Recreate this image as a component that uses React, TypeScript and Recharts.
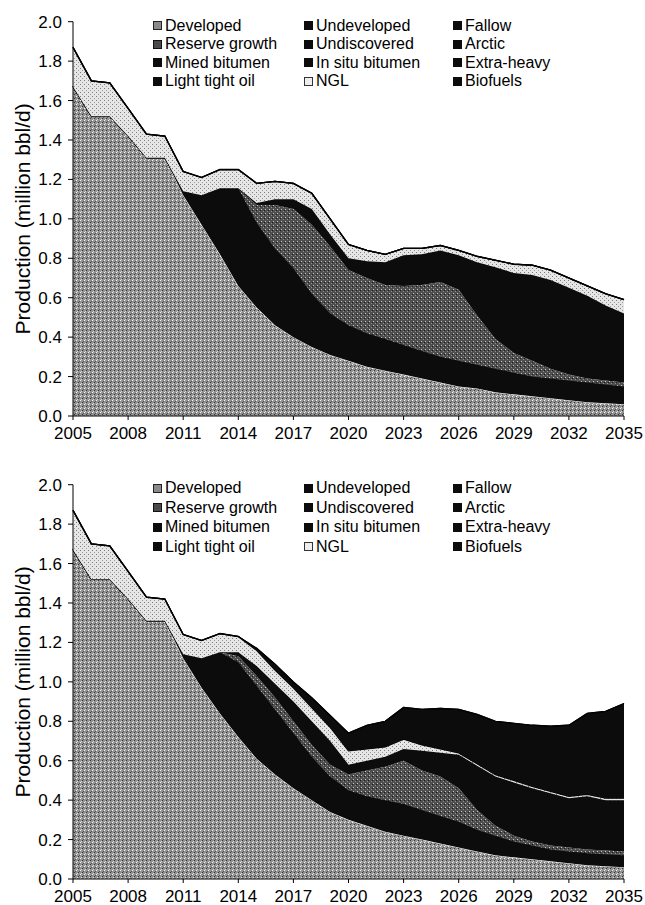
import { AreaChart, Area, XAxis, YAxis } from 'recharts';

const YEARS = [2005, 2006, 2007, 2008, 2009, 2010, 2011, 2012, 2013, 2014, 2015, 2016, 2017, 2018, 2019, 2020, 2021, 2022, 2023, 2024, 2025, 2026, 2027, 2028, 2029, 2030, 2031, 2032, 2033, 2034, 2035];
const X_TICKS = [2005, 2008, 2011, 2014, 2017, 2020, 2023, 2026, 2029, 2032, 2035];
const Y_TICKS = [0, 0.2, 0.4, 0.6, 0.8, 1.0, 1.2, 1.4, 1.6, 1.8, 2.0];

const ZERO = [0, 0, 0, 0, 0, 0, 0, 0, 0, 0, 0, 0, 0, 0, 0, 0, 0, 0, 0, 0, 0, 0, 0, 0, 0, 0, 0, 0, 0, 0, 0];

// upper chart (million bbl/d)
const TOP_DEVELOPED = [1.67, 1.52, 1.52, 1.42, 1.31, 1.31, 1.12, 0.97, 0.82, 0.66, 0.55, 0.46, 0.40, 0.35, 0.31, 0.28, 0.25, 0.23, 0.21, 0.19, 0.17, 0.15, 0.14, 0.12, 0.11, 0.10, 0.09, 0.08, 0.07, 0.065, 0.06];
const TOP_UNDEVELOPED = [0, 0, 0, 0, 0, 0, 0.02, 0.15, 0.335, 0.495, 0.43, 0.39, 0.35, 0.27, 0.21, 0.18, 0.17, 0.16, 0.15, 0.14, 0.13, 0.13, 0.12, 0.12, 0.11, 0.10, 0.10, 0.10, 0.10, 0.095, 0.09];
const TOP_RESERVE_GROWTH = [0, 0, 0, 0, 0, 0, 0, 0, 0, 0, 0.09, 0.22, 0.30, 0.35, 0.34, 0.28, 0.28, 0.275, 0.30, 0.335, 0.38, 0.36, 0.25, 0.15, 0.10, 0.08, 0.05, 0.03, 0.02, 0.02, 0.02];
const TOP_UNDISCOVERED = [0, 0, 0, 0, 0, 0, 0, 0, 0, 0, 0.01, 0.03, 0.05, 0.08, 0.06, 0.06, 0.085, 0.115, 0.155, 0.155, 0.16, 0.175, 0.27, 0.365, 0.405, 0.435, 0.45, 0.44, 0.42, 0.38, 0.35];
const TOP_NGL = [0.20, 0.18, 0.17, 0.14, 0.12, 0.11, 0.10, 0.09, 0.095, 0.095, 0.10, 0.09, 0.08, 0.08, 0.08, 0.07, 0.055, 0.04, 0.035, 0.03, 0.025, 0.025, 0.03, 0.035, 0.045, 0.05, 0.05, 0.05, 0.05, 0.06, 0.07];

// lower chart (million bbl/d)
const BOT_DEVELOPED = [1.67, 1.52, 1.52, 1.42, 1.31, 1.31, 1.12, 0.97, 0.84, 0.72, 0.61, 0.53, 0.46, 0.40, 0.34, 0.30, 0.27, 0.24, 0.22, 0.20, 0.18, 0.16, 0.14, 0.12, 0.11, 0.10, 0.09, 0.08, 0.07, 0.065, 0.06];
const BOT_UNDEVELOPED = [0, 0, 0, 0, 0, 0, 0.02, 0.15, 0.31, 0.38, 0.37, 0.33, 0.28, 0.22, 0.18, 0.15, 0.15, 0.16, 0.16, 0.15, 0.14, 0.13, 0.11, 0.10, 0.08, 0.07, 0.06, 0.06, 0.06, 0.06, 0.06];
const BOT_RESERVE_GROWTH = [0, 0, 0, 0, 0, 0, 0, 0, 0, 0.03, 0.05, 0.06, 0.06, 0.06, 0.06, 0.08, 0.13, 0.17, 0.22, 0.20, 0.20, 0.17, 0.10, 0.05, 0.03, 0.02, 0.02, 0.02, 0.02, 0.02, 0.02];
const BOT_UNDISCOVERED = [0, 0, 0, 0, 0, 0, 0, 0, 0, 0.02, 0.05, 0.07, 0.10, 0.12, 0.12, 0.05, 0.05, 0.05, 0.06, 0.10, 0.12, 0.17, 0.225, 0.25, 0.27, 0.27, 0.265, 0.25, 0.27, 0.255, 0.26];
const BOT_NGL = [0.20, 0.18, 0.17, 0.14, 0.12, 0.11, 0.10, 0.09, 0.095, 0.08, 0.08, 0.07, 0.07, 0.07, 0.07, 0.07, 0.06, 0.05, 0.05, 0.03, 0.02, 0.01, 0.01, 0.01, 0.01, 0.01, 0.01, 0.01, 0.01, 0.01, 0.01];
const BOT_LTO = [0, 0, 0, 0, 0, 0, 0, 0, 0, 0, 0.01, 0.03, 0.03, 0.05, 0.06, 0.09, 0.12, 0.13, 0.16, 0.18, 0.205, 0.22, 0.25, 0.27, 0.29, 0.31, 0.33, 0.36, 0.41, 0.44, 0.48];

const LEGEND_ROWS = [
  ['Developed', 'Undeveloped', 'Fallow'],
  ['Reserve growth', 'Undiscovered', 'Arctic'],
  ['Mined bitumen', 'In situ bitumen', 'Extra-heavy'],
  ['Light tight oil', 'NGL', 'Biofuels'],
];

const BLACK = '#0c0c0c';

// stacking order, bottom to top
const SERIES = [
  { key: 'developed', pattern: 'dev', stroke: '#fff', width: 1 },
  { key: 'undeveloped', color: BLACK, stroke: BLACK, width: 1 },
  { key: 'fallow', color: BLACK, stroke: BLACK, width: 1 },
  { key: 'reserveGrowth', pattern: 'rg', stroke: 'none', width: 0 },
  { key: 'undiscovered', color: BLACK, stroke: BLACK, width: 1 },
  { key: 'arctic', color: BLACK, stroke: BLACK, width: 1 },
  { key: 'minedBitumen', color: BLACK, stroke: BLACK, width: 1 },
  { key: 'inSitu', color: BLACK, stroke: BLACK, width: 1 },
  { key: 'extraHeavy', color: BLACK, stroke: BLACK, width: 1 },
  { key: 'ngl', pattern: 'ngl', stroke: '#000', width: 1.4 },
  { key: 'lto', color: BLACK, stroke: '#000', width: 1.2 },
  { key: 'biofuels', color: BLACK, stroke: '#000', width: 1.2 },
];

const topData = YEARS.map((year, i) => ({
  year,
  developed: TOP_DEVELOPED[i],
  undeveloped: TOP_UNDEVELOPED[i],
  fallow: ZERO[i],
  reserveGrowth: TOP_RESERVE_GROWTH[i],
  undiscovered: TOP_UNDISCOVERED[i],
  arctic: ZERO[i],
  minedBitumen: ZERO[i],
  inSitu: ZERO[i],
  extraHeavy: ZERO[i],
  ngl: TOP_NGL[i],
  lto: ZERO[i],
  biofuels: ZERO[i],
}));

const bottomData = YEARS.map((year, i) => ({
  year,
  developed: BOT_DEVELOPED[i],
  undeveloped: BOT_UNDEVELOPED[i],
  fallow: ZERO[i],
  reserveGrowth: BOT_RESERVE_GROWTH[i],
  undiscovered: BOT_UNDISCOVERED[i],
  arctic: ZERO[i],
  minedBitumen: ZERO[i],
  inSitu: ZERO[i],
  extraHeavy: ZERO[i],
  ngl: BOT_NGL[i],
  lto: BOT_LTO[i],
  biofuels: ZERO[i],
}));

function swatch(name: string) {
  const base: any = { display: 'inline-block', width: 9, height: 9, marginRight: 3, boxSizing: 'border-box', flexShrink: 0 };
  if (name === 'Developed') return { ...base, background: '#8a8a8a', border: '1px solid #222' };
  if (name === 'Reserve growth') return { ...base, background: '#4a4a4a', border: '1px solid #111' };
  if (name === 'NGL') return { ...base, background: '#eee', border: '1px solid #333' };
  return { ...base, background: BLACK };
}

function LegendGrid({ top, rowH }: { top: number; rowH: number }) {
  const colW = [151, 149, 140];
  return (
    <div style={{ position: 'absolute', left: 153, top, fontSize: 16, color: '#000', lineHeight: 1 }}>
      {LEGEND_ROWS.map((row, r) => (
        <div key={r} style={{ display: 'flex', height: rowH, alignItems: 'center' }}>
          {row.map((name, c) => (
            <div key={name} style={{ width: colW[c], display: 'flex', alignItems: 'center', whiteSpace: 'nowrap' }}>
              <span style={swatch(name)} />
              <span>{name}</span>
            </div>
          ))}
        </div>
      ))}
    </div>
  );
}

function ProductionChart({ id, data, height, margin, xHeight }: any) {
  return (
    <AreaChart width={645} height={height} data={data} margin={margin}>
      <defs>
        <pattern id={`${id}-dev`} width="4" height="4" patternUnits="userSpaceOnUse">
          <rect width="4" height="4" fill="#939393" />
          <rect x="0" y="0" width="1" height="1" fill="#f4f4f4" />
          <rect x="2" y="2" width="1" height="1" fill="#333" />
          <rect x="1" y="3" width="1" height="1" fill="#d8d8d8" />
          <rect x="3" y="1" width="1" height="1" fill="#555" />
        </pattern>
        <pattern id={`${id}-rg`} width="4" height="4" patternUnits="userSpaceOnUse">
          <rect width="4" height="4" fill="#4e4e4e" />
          <rect x="1" y="1" width="1" height="1" fill="#c8c8c8" />
          <rect x="3" y="3" width="1" height="1" fill="#909090" />
          <rect x="0" y="2" width="1" height="1" fill="#1a1a1a" />
        </pattern>
        <pattern id={`${id}-ngl`} width="4" height="4" patternUnits="userSpaceOnUse">
          <rect width="4" height="4" fill="#e6e6e6" />
          <rect x="0" y="0" width="1" height="1" fill="#7a7a7a" />
          <rect x="2" y="2" width="1" height="1" fill="#9a9a9a" />
        </pattern>
      </defs>
      <XAxis
        dataKey="year"
        type="number"
        domain={[2005, 2035]}
        ticks={X_TICKS}
        interval={0}
        height={xHeight}
        tickSize={4}
        tickMargin={7}
        axisLine={{ stroke: '#000' }}
        tickLine={{ stroke: '#000' }}
        tick={{ fill: '#000', fontSize: 17 }}
      />
      <YAxis
        type="number"
        domain={[0, 2]}
        ticks={Y_TICKS}
        interval={0}
        width={55}
        tickSize={5}
        tickMargin={6}
        tickFormatter={(v: number) => v.toFixed(1)}
        axisLine={{ stroke: '#000' }}
        tickLine={{ stroke: '#000' }}
        tick={{ fill: '#000', fontSize: 17 }}
        label={{
          value: 'Production (million bbl/d)',
          angle: -90,
          position: 'insideLeft',
          offset: 4.5,
          style: { textAnchor: 'middle', fontSize: 21, fill: '#000' },
        }}
      />
      {SERIES.map((s) => (
        <Area
          key={s.key}
          type="linear"
          dataKey={s.key}
          stackId="1"
          fill={s.pattern ? `url(#${id}-${s.pattern})` : s.color}
          fillOpacity={1}
          stroke={s.stroke}
          strokeWidth={s.width}
          dot={false}
          activeDot={false}
          isAnimationActive={false}
        />
      ))}
    </AreaChart>
  );
}

export default function App() {
  return (
    <div
      style={{
        position: 'fixed',
        left: 0,
        top: 0,
        width: 645,
        height: 905,
        background: '#fff',
        fontFamily: '"Liberation Sans", Arial, sans-serif',
      }}
    >
      <div style={{ position: 'absolute', left: 0, top: 0 }}>
        <ProductionChart id="a" data={topData} height={458} margin={{ top: 21.7, right: 21, left: 18, bottom: 12 }} xHeight={30} />
      </div>
      <LegendGrid top={16.25} rowH={18.5} />
      <div style={{ position: 'absolute', left: 0, top: 458 }}>
        <ProductionChart id="b" data={bottomData} height={447} margin={{ top: 26.7, right: 21, left: 18, bottom: 0 }} xHeight={26} />
      </div>
      <LegendGrid top={478.25} rowH={19.5} />
    </div>
  );
}
